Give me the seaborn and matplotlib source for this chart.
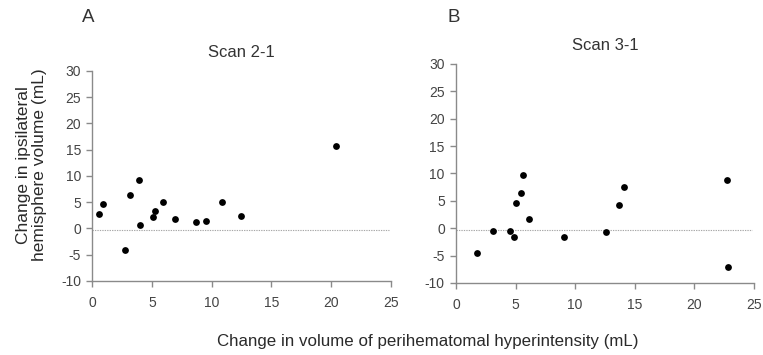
import matplotlib
matplotlib.use('Agg')
import matplotlib.pyplot as plt
import seaborn as sb
import pandas as pd

# Scan 2-1 (panel A)
scan21_x = [0.6, 0.95, 2.75, 3.15, 3.9, 4.05, 5.1, 5.3, 5.9, 6.95, 8.7, 9.5, 10.9, 12.45, 20.4]
scan21_y = [2.7, 4.6, -4.1, 6.4, 9.2, 0.6, 2.1, 3.4, 5.0, 1.85, 1.3, 1.35, 5.1, 2.3, 15.8]

# Scan 3-1 (panel B)
scan31_x = [1.8, 3.1, 4.55, 4.9, 5.0, 5.45, 5.6, 6.15, 9.1, 12.55, 13.7, 14.1, 22.7, 22.8]
scan31_y = [-4.6, -0.55, -0.55, -1.6, 4.6, 6.4, 9.7, 1.6, -1.7, -0.7, 4.3, 7.5, 8.8, -7.0]

zero_line = {'A': -0.35, 'B': -0.25}
x_ticks = [0, 5, 10, 15, 20, 25]
y_ticks = [-10, -5, 0, 5, 10, 15, 20, 25, 30]

sb.set_style('white')
plt.rcParams['font.family'] = ['Liberation Sans', 'DejaVu Sans']
plt.rcParams['axes.unicode_minus'] = False

text_col = '#333333'
spine_col = '#8a8a8a'

fig = plt.figure(figsize=(7.63, 3.55), dpi=100)
ax_a = fig.add_axes([0.1206, 0.2085, 0.392, 0.5915])
ax_b = fig.add_axes([0.5976, 0.203, 0.3906, 0.6169])

panels = [
    (ax_a, scan21_x, scan21_y, 'Scan 2-1', 'A', zero_line['A']),
    (ax_b, scan31_x, scan31_y, 'Scan 3-1', 'B', zero_line['B']),
]

for ax, xs, ys, title, letter, zl in panels:
    df = pd.DataFrame({'x': xs, 'y': ys})
    # dotted reference line near zero
    ax.axhline(zl, xmin=0, xmax=0.992, color='#a8a8a8', linestyle=(0, (1.2, 1.0)), linewidth=0.8, zorder=1)
    sb.scatterplot(data=df, x='x', y='y', ax=ax, color='black', s=24, linewidth=0, zorder=3)
    ax.set_xlim(0, 25)
    ax.set_ylim(-10, 30)
    ax.set_xticks(x_ticks)
    ax.set_yticks(y_ticks)
    ax.set_xlabel('')
    ax.set_ylabel('')
    for s in ['top', 'right']:
        ax.spines[s].set_visible(False)
    for s in ['left', 'bottom']:
        ax.spines[s].set_color(spine_col)
        ax.spines[s].set_linewidth(1.0)
    ax.tick_params(bottom=True, left=True, direction='out', length=4, width=1.0, color=spine_col,
                   labelsize=10, labelcolor='#444444', pad=4)
    ax.tick_params(axis='x', pad=7)
    ax.set_title(title, fontsize=12, color=text_col, pad=10)

fig.text(0.115, 0.95, 'A', fontsize=13.5, color=text_col, ha='center', va='center')
fig.text(0.595, 0.952, 'B', fontsize=13.5, color=text_col, ha='center', va='center')

fig.text(0.041, 0.535, 'Change in ipsilateral\nhemisphere volume (mL)', rotation=90,
         fontsize=12.5, color='#2a2a2a', ha='center', va='center', linespacing=1.1)
fig.text(0.56, 0.037, 'Change in volume of perihematomal hyperintensity (mL)',
         fontsize=12.2, color='#2a2a2a', ha='center', va='center')

fig.savefig('out.png', dpi=100)
